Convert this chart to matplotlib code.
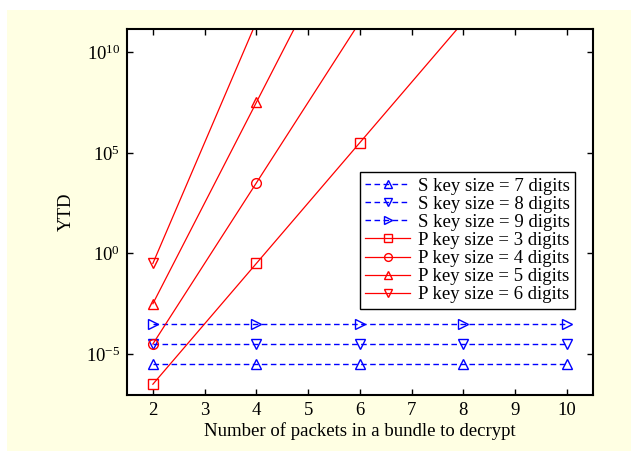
import numpy as np
import matplotlib.pyplot as plt
from matplotlib.patches import Rectangle
from matplotlib.ticker import NullLocator

plt.rcParams['font.family'] = ['Liberation Serif', 'DejaVu Serif']
plt.rcParams['mathtext.fontset'] = 'custom'
plt.rcParams['mathtext.rm'] = 'Liberation Serif'
plt.rcParams['mathtext.it'] = 'Liberation Serif:italic'

packets = [2, 4, 6, 8, 10]

s7 = [3.2e-6, 3.2e-6, 3.2e-6, 3.2e-6, 3.2e-6]
s8 = [3.2e-5, 3.2e-5, 3.2e-5, 3.2e-5, 3.2e-5]
s9 = [3.2e-4, 3.2e-4, 3.2e-4, 3.2e-4, 3.2e-4]
p3 = [3.2e-7, 3.2e-1, 3.2e5, 3.2e11, 3.2e17]
p4 = [3.2e-5, 3.2e3, 3.2e11, 3.2e19, 3.2e27]
p5 = [3.2e-3, 3.2e7, 3.2e17, 3.2e27, 3.2e37]
p6 = [3.2e-1, 3.2e11, 3.2e23, 3.2e35, 3.2e47]

s_labels = ['S key size = 7 digits', 'S key size = 8 digits', 'S key size = 9 digits']
p_labels = ['P key size = 3 digits', 'P key size = 4 digits',
            'P key size = 5 digits', 'P key size = 6 digits']

fig = plt.figure(figsize=(6.31, 4.51), dpi=100, facecolor='white')
fig.patches.append(Rectangle((7 / 631, 0), 1, 1 - 10 / 451, transform=fig.transFigure,
                             facecolor='#FFFFE3', edgecolor='none', zorder=-10))
ax = fig.add_axes([127 / 631, 1 - 395 / 451, (592.7 - 127) / 631, (395 - 29) / 451])

blue = (0, 0, 1)
red = (1, 0, 0)
ms = 7
for vals, mk, lab in zip([s7, s8, s9], ['^', 'v', '>'], s_labels):
    ax.plot(packets, vals, linestyle='--', color=blue, marker=mk, markersize=ms,
            markerfacecolor='none', markeredgecolor=blue, linewidth=1, label=lab,
            dashes=(4, 2.5))
for vals, mk, lab in zip([p3, p4, p5, p6], ['s', 'o', '^', 'v'], p_labels):
    ax.plot(packets, vals, linestyle='-', color=red, marker=mk, markersize=ms,
            markerfacecolor='none', markeredgecolor=red, linewidth=0.9, label=lab)

ax.set_yscale('log')
ax.set_xlim(1.5, 10.5)
ax.set_ylim(10 ** -7.03, 10 ** 11.15)
ax.set_xticks(range(2, 11))
ax.set_yticks([1e-5, 1e0, 1e5, 1e10])
ax.yaxis.set_minor_locator(NullLocator())
ax.tick_params(direction='in', length=4, width=1, top=True, right=True,
               labelsize=13.5, pad=5)
for sp in ax.spines.values():
    sp.set_linewidth(1.5)

ax.set_xlabel('Number of packets in a bundle to decrypt', fontsize=13.5, labelpad=2)
ax.set_ylabel('YTD', fontsize=13.5, labelpad=8)

leg = ax.legend(loc='upper right', bbox_to_anchor=(0.963, 0.609), borderaxespad=0,
                fontsize=13.5, handlelength=2.4, handletextpad=0.4, labelspacing=0.05,
                borderpad=0.3, fancybox=False, framealpha=1, edgecolor='black',
                markerscale=0.8)
leg.get_frame().set_linewidth(1.0)

plt.savefig('out.png', dpi=100, facecolor=fig.get_facecolor())
